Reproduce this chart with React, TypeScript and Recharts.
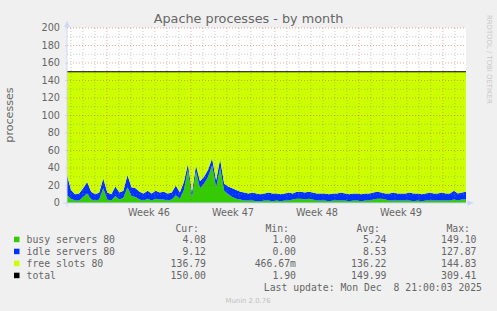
import React from 'react';
import { ComposedChart, Area, Line, XAxis, YAxis, CartesianGrid, ReferenceLine } from 'recharts';

// ---- data ----
const busyServers = [
  9, 5, 3, 3, 7, 11, 4, 3, 4, 17,
  4, 3, 8, 4, 6, 18, 8, 7, 4, 3,
  5, 3, 5, 4, 4, 3, 4, 9, 5, 15,
  38, 6, 36, 17, 22, 30, 43, 18, 40, 14,
  10, 7, 5, 4, 3, 3, 3, 2, 2, 3,
  3, 2, 3, 2, 3, 3, 4, 5, 5, 4,
  5, 4, 3, 3, 3, 2, 3, 3, 3, 3,
  2, 3, 3, 2, 3, 3, 4, 5, 5, 4,
  3, 3, 3, 3, 3, 3, 2, 3, 2, 3,
  3, 3, 3, 3, 3, 3, 4, 3, 4, 4,
];
const idleServers = [
  23, 10, 7, 8, 10, 13, 9, 7, 8, 11,
  8, 7, 11, 8, 8, 14, 10, 10, 9, 8,
  9, 8, 9, 8, 9, 8, 8, 11, 7, 9,
  7, 6, 7, 8, 8, 8, 8, 8, 10, 8,
  9, 10, 10, 9, 9, 8, 9, 9, 8, 8,
  9, 9, 8, 8, 8, 9, 7, 8, 8, 8,
  8, 8, 8, 8, 8, 8, 8, 8, 9, 8,
  8, 8, 8, 8, 8, 8, 8, 8, 7, 7,
  8, 9, 8, 8, 8, 9, 9, 8, 8, 8,
  9, 8, 8, 9, 8, 8, 10, 8, 8, 9,
];
const totalSlots = [
  150, 150, 150, 150, 150, 150, 150, 150, 150, 150,
  150, 150, 150, 150, 150, 150, 150, 150, 150, 150,
  150, 150, 150, 150, 150, 150, 150, 150, 150, 150,
  150, 150, 150, 150, 150, 150, 150, 150, 150, 150,
  150, 150, 150, 150, 150, 150, 150, 150, 150, 150,
  150, 150, 150, 150, 150, 150, 150, 150, 150, 150,
  150, 150, 150, 150, 150, 150, 150, 150, 150, 150,
  150, 150, 150, 150, 150, 150, 150, 150, 150, 150,
  150, 150, 150, 150, 150, 150, 150, 150, 150, 150,
  150, 150, 150, 150, 150, 150, 150, 150, 150, 150,
];

// time axis in days from the left edge of the graph
const SPAN_DAYS = 33.25;
const weekLabels = ['Week 46', 'Week 47', 'Week 48', 'Week 49'];
const weekMidDays = [6.8333, 13.8333, 20.8333, 27.8333];
const weekStartDays = [3.3333, 10.3333, 17.3333, 24.3333, 31.3333];
const dayGridDays = Array.from({ length: 33 }, (_, k) => 0.3333 + k).filter(
  (d) => !weekStartDays.some((w) => Math.abs(w - d) < 0.01)
);
const yTicks = [0, 20, 40, 60, 80, 100, 120, 140, 160, 180, 200];
const yMinor = [10, 30, 50, 70, 90, 110, 130, 150, 170, 190];
const yMajor = [20, 40, 60, 80, 100, 120, 140, 160, 180, 200];

const legendRows = [
  { name: 'busy servers 80', color: '#33CC00', cur: '4.08', min: '1.00', avg: '5.24', max: '149.10' },
  { name: 'idle servers 80', color: '#0033FF', cur: '9.12', min: '0.00', avg: '8.53', max: '127.87' },
  { name: 'free slots 80', color: '#CCFF00', cur: '136.79', min: '466.67m', avg: '136.22', max: '144.83' },
  { name: 'total', color: '#000000', cur: '150.00', min: '1.90', avg: '149.99', max: '309.41' },
];

const step = SPAN_DAYS / (busyServers.length - 1);
const rows = busyServers.map((b, i) => ({
  t: i * step,
  busy: b,
  idle: idleServers[i],
  free: totalSlots[i] - b - idleServers[i],
  total: totalSlots[i],
}));

const GRID = 'rgba(140,140,140,0.45)';
const MGRID = 'rgba(200,40,40,0.40)';
const AXIS = '#CFD6F8';
const FONT = '#666666';
const SANS = '"DejaVu Sans", sans-serif';
const MONO = '"DejaVu Sans Mono", monospace';

export default function App() {
  return (
    <div style={{ position: 'absolute', left: 0, top: 0, width: 497, height: 311, background: '#F0F0F0' }}>
      <ComposedChart
        width={497}
        height={311}
        data={rows}
        margin={{ top: 28, right: 31, bottom: 78, left: 0 }}
      >
        <CartesianGrid fill="#FFFFFF" stroke="none" horizontal={false} vertical={false} />
        <XAxis
          dataKey="t"
          type="number"
          domain={[0, SPAN_DAYS]}
          ticks={weekMidDays}
          tickFormatter={(v: number) => weekLabels[weekMidDays.findIndex((m) => Math.abs(m - v) < 0.01)] ?? ''}
          height={30}
          axisLine={{ stroke: AXIS }}
          tickLine={false}
          tickSize={2}
          tickMargin={4}
          tick={{ fill: FONT, fontSize: 9.7, fontFamily: SANS }}
          allowDataOverflow
        />
        <YAxis
          type="number"
          domain={[0, 200]}
          ticks={yTicks}
          width={67}
          axisLine={{ stroke: AXIS }}
          tickLine={{ stroke: AXIS }}
          tickSize={2}
          tickMargin={5}
          tick={{ fill: FONT, fontSize: 9.7, fontFamily: SANS }}
          allowDataOverflow
        />
        <Area type="linear" dataKey="busy" stackId="s" fill="#33CC00" fillOpacity={1} stroke="none" isAnimationActive={false} />
        <Area type="linear" dataKey="idle" stackId="s" fill="#0033FF" fillOpacity={1} stroke="none" isAnimationActive={false} />
        <Area type="linear" dataKey="free" stackId="s" fill="#CCFF00" fillOpacity={1} stroke="none" isAnimationActive={false} />
        {dayGridDays.map((d) => (
          <ReferenceLine key={'d' + d} x={d} stroke={GRID} strokeDasharray="1 2" />
        ))}
        {yMinor.map((v) => (
          <ReferenceLine key={'ym' + v} y={v} stroke={GRID} strokeDasharray="1 2" />
        ))}
        {weekStartDays.map((d) => (
          <ReferenceLine key={'w' + d} x={d} stroke={MGRID} strokeDasharray="1 2" />
        ))}
        {yMajor.map((v) => (
          <ReferenceLine key={'yM' + v} y={v} stroke={MGRID} strokeDasharray="1 2" />
        ))}
        <Line type="linear" dataKey="total" stroke="#000000" strokeWidth={1.2} dot={false} isAnimationActive={false} />
      </ComposedChart>
      <svg
        width={497}
        height={311}
        style={{ position: 'absolute', left: 0, top: 0, pointerEvents: 'none' }}
      >
        {/* axis arrows */}
        <polygon points="67,20.5 64.2,27 69.8,27" fill={AXIS} />
        <polygon points="474,203 467.5,200.2 467.5,205.8" fill={AXIS} />
        <line x1={67} y1={203} x2={67} y2={207} stroke={AXIS} />
        <line x1={63} y1={203} x2={67} y2={203} stroke={AXIS} />
        <line x1={466} y1={203} x2={468} y2={203} stroke={AXIS} />
        <text x={248.5} y={23} textAnchor="middle" fontFamily={SANS} fontSize={12.8} fill={FONT}>
          Apache processes - by month
        </text>
        <text
          x={12.5}
          y={115}
          textAnchor="middle"
          fontFamily={SANS}
          fontSize={11.1}
          fill={FONT}
          transform="rotate(-90 12.5 115)"
        >
          processes
        </text>
        <text
          x={486.5}
          y={15}
          fontFamily={SANS}
          fontSize={6.9}
          fill="#C8C8C8"
          transform="rotate(90 486.5 15)"
        >
          RRDTOOL / TOBI OETIKER
        </text>
        <g fontFamily={MONO} fontSize={9.8} fill={FONT}>
          <text x={199} y={231.7} textAnchor="end">Cur:</text>
          <text x={289} y={231.7} textAnchor="end">Min:</text>
          <text x={380} y={231.7} textAnchor="end">Avg:</text>
          <text x={470} y={231.7} textAnchor="end">Max:</text>
          {legendRows.map((r, i) => {
            const y = 242.7 + i * 12;
            return (
              <g key={r.name}>
                <rect x={14} y={y - 6} width={5.5} height={5.5} fill={r.color} />
                <text x={26.5} y={y}>{r.name}</text>
                <text x={206} y={y} textAnchor="end">{r.cur}</text>
                <text x={296} y={y} textAnchor="end">{r.min}</text>
                <text x={386.5} y={y} textAnchor="end">{r.avg}</text>
                <text x={476.5} y={y} textAnchor="end">{r.max}</text>
              </g>
            );
          })}
          <text x={482} y={291} textAnchor="end" style={{ whiteSpace: 'pre' }}>
            {'Last update: Mon Dec  8 21:00:03 2025'}
          </text>
        </g>
        <text x={248} y={302.5} textAnchor="middle" fontFamily={SANS} fontSize={6.9} fill="#C0C0C0">
          Munin 2.0.76
        </text>
      </svg>
    </div>
  );
}
